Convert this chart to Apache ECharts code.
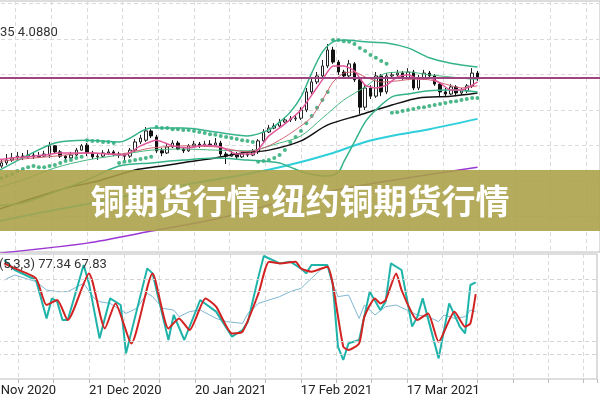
<!DOCTYPE html>
<html>
<head>
<meta charset="utf-8">
<script src="https://cdn.jsdelivr.net/npm/echarts@6/dist/echarts.min.js"></script>
<style>
  html, body { margin: 0; padding: 0; background: #fff; overflow: hidden; }
  #chart { position: absolute; left: -20px; top: 0; width: 620px; height: 400px; }
</style>
</head>
<body>
<div id="chart"></div>
<script>
// trading-day index: 0 = 21 Dec 2020
const dateTicks = [-20, 0, 20, 40, 60]
const dateLabels = ['20 Nov 2020', '21 Dec 2020', '20 Jan 2021', '17 Feb 2021', '17 Mar 2021']

const candleStart = -16
// [open, close, low, high]
const candles = [
  [3.842, 3.851, 3.837, 3.859], [3.851, 3.859, 3.845, 3.876], [3.859, 3.865, 3.854, 3.879], [3.865, 3.870, 3.859, 3.882],
  [3.870, 3.868, 3.859, 3.879], [3.868, 3.873, 3.865, 3.887], [3.873, 3.868, 3.862, 3.879], [3.868, 3.870, 3.865, 3.882],
  [3.870, 3.876, 3.868, 3.885], [3.873, 3.899, 3.865, 3.910], [3.899, 3.882, 3.876, 3.901], [3.882, 3.870, 3.865, 3.887],
  [3.870, 3.865, 3.859, 3.873], [3.865, 3.873, 3.862, 3.882], [3.873, 3.887, 3.870, 3.893], [3.887, 3.899, 3.885, 3.904],
  [3.901, 3.879, 3.870, 3.907], [3.879, 3.868, 3.862, 3.885], [3.868, 3.870, 3.859, 3.876], [3.870, 3.879, 3.865, 3.887],
  [3.879, 3.882, 3.873, 3.890], [3.882, 3.876, 3.870, 3.887], [3.876, 3.873, 3.865, 3.882], [3.873, 3.870, 3.859, 3.879],
  [3.870, 3.887, 3.865, 3.893], [3.887, 3.910, 3.882, 3.918], [3.910, 3.921, 3.904, 3.930], [3.915, 3.941, 3.910, 3.952],
  [3.941, 3.927, 3.921, 3.946], [3.924, 3.885, 3.879, 3.930], [3.885, 3.879, 3.870, 3.893], [3.879, 3.896, 3.876, 3.904],
  [3.896, 3.907, 3.893, 3.915], [3.907, 3.890, 3.887, 3.913], [3.890, 3.885, 3.879, 3.896], [3.885, 3.899, 3.882, 3.904],
  [3.899, 3.904, 3.893, 3.913], [3.904, 3.899, 3.893, 3.910], [3.899, 3.904, 3.896, 3.913], [3.904, 3.901, 3.896, 3.915],
  [3.901, 3.907, 3.899, 3.921], [3.907, 3.876, 3.870, 3.913], [3.876, 3.870, 3.848, 3.882], [3.870, 3.876, 3.868, 3.885],
  [3.876, 3.868, 3.862, 3.882], [3.868, 3.876, 3.865, 3.882], [3.876, 3.873, 3.868, 3.882], [3.873, 3.882, 3.870, 3.890],
  [3.882, 3.913, 3.876, 3.918], [3.913, 3.938, 3.910, 3.946], [3.938, 3.949, 3.935, 3.958], [3.949, 3.955, 3.946, 3.963],
  [3.955, 3.966, 3.952, 3.975], [3.966, 3.972, 3.963, 3.980], [3.972, 3.975, 3.966, 3.983], [3.975, 3.977, 3.969, 3.986],
  [3.977, 4.000, 3.972, 4.008], [4.000, 4.051, 3.994, 4.062], [4.051, 4.079, 4.045, 4.090], [4.079, 4.096, 4.073, 4.107],
  [4.096, 4.124, 4.090, 4.141], [4.124, 4.169, 4.118, 4.186], [4.169, 4.135, 4.130, 4.178], [4.135, 4.107, 4.099, 4.141],
  [4.107, 4.096, 4.090, 4.113], [4.096, 4.130, 4.090, 4.141], [4.130, 4.085, 4.079, 4.135], [4.085, 4.008, 3.989, 4.090],
  [4.008, 4.062, 4.000, 4.073], [4.062, 4.039, 4.031, 4.070], [4.039, 4.096, 4.034, 4.107], [4.096, 4.051, 4.039, 4.101],
  [4.051, 4.096, 4.045, 4.104], [4.096, 4.099, 4.090, 4.107], [4.099, 4.104, 4.093, 4.113], [4.104, 4.090, 4.085, 4.110],
  [4.090, 4.107, 4.087, 4.118], [4.107, 4.062, 4.056, 4.113], [4.062, 4.090, 4.056, 4.099], [4.090, 4.104, 4.085, 4.113],
  [4.104, 4.096, 4.090, 4.110], [4.096, 4.073, 4.068, 4.101], [4.073, 4.051, 4.039, 4.079], [4.051, 4.045, 4.037, 4.062],
  [4.045, 4.065, 4.042, 4.073], [4.065, 4.048, 4.039, 4.070], [4.048, 4.054, 4.042, 4.062], [4.054, 4.068, 4.048, 4.073],
  [4.068, 4.104, 4.062, 4.118], [4.104, 4.088, 4.082, 4.110]
]
const lastPrice = 4.088

// indicator lines, [day index, price]
const bbUpper = [[-17, 3.825], [-12, 3.865], [-6, 3.907], [0, 3.915], [6, 3.910], [12, 3.949], [18, 3.949], [24, 3.938],
  [30, 3.927], [34, 3.944], [36, 3.966], [38, 3.994], [40, 4.037], [42, 4.104], [44, 4.163], [46, 4.192], [48, 4.197],
  [52, 4.192], [56, 4.189], [60, 4.175], [64, 4.147], [68, 4.132], [73, 4.121]]
const bbMiddle = [[-17, 3.780], [-12, 3.803], [-6, 3.837], [0, 3.859], [6, 3.873], [12, 3.887], [18, 3.890], [24, 3.887],
  [30, 3.885], [36, 3.907], [40, 3.927], [44, 3.977], [48, 4.028], [52, 4.065], [56, 4.104], [60, 4.107], [64, 4.099],
  [68, 4.093], [73, 4.085]]
const bbLower = [[-17, 3.730], [-12, 3.738], [-6, 3.769], [0, 3.803], [6, 3.842], [12, 3.851], [18, 3.859], [24, 3.865],
  [30, 3.859], [36, 3.851], [38, 3.839], [41, 3.822], [45, 3.814], [47, 3.825], [48, 3.854], [50, 3.910], [52, 3.966],
  [54, 4.000], [57, 4.037], [60, 4.045], [64, 4.054], [68, 4.056], [73, 4.051]]
const maFast = [[-17, 3.859], [-14, 3.865], [-11, 3.868], [-8, 3.873], [-5, 3.879], [-2, 3.879], [1, 3.879], [4, 3.876],
  [7, 3.873], [10, 3.899], [13, 3.915], [16, 3.899], [19, 3.893], [22, 3.901], [25, 3.896], [28, 3.876], [31, 3.876],
  [34, 3.927], [37, 3.961], [40, 4.000], [42, 4.042], [44, 4.085], [46, 4.124], [48, 4.124], [50, 4.110], [52, 4.070],
  [54, 4.062], [56, 4.070], [58, 4.093], [60, 4.099], [62, 4.087], [64, 4.090], [66, 4.076], [68, 4.056], [70, 4.056],
  [72, 4.070], [73, 4.079]]
const maSlow = [[-17, 3.854], [-12, 3.862], [-6, 3.870], [0, 3.879], [6, 3.876], [12, 3.893], [18, 3.899], [24, 3.896],
  [30, 3.882], [34, 3.899], [37, 3.924], [40, 3.955], [42, 3.980], [44, 4.028], [46, 4.079], [48, 4.104], [50, 4.107],
  [52, 4.093], [55, 4.079], [58, 4.082], [61, 4.087], [64, 4.085], [67, 4.073], [70, 4.062], [73, 4.068]]
const maBlack = [[-17, 3.718], [-10, 3.752], [-4, 3.780], [2, 3.800], [9, 3.831], [14, 3.842], [19, 3.854], [24, 3.865],
  [29, 3.879], [34, 3.887], [40, 3.913], [45, 3.958], [51, 3.986], [57, 4.014], [62, 4.034], [68, 4.039], [73, 4.048]]
const maCyan = [[-17, 3.685], [-8, 3.713], [0, 3.735], [10, 3.766], [20, 3.794], [30, 3.820], [37, 3.842], [46, 3.879],
  [52, 3.910], [58, 3.930], [64, 3.946], [73, 3.975]]
const maPurple = [[-17, 3.596], [0, 3.625], [12, 3.659], [25, 3.696], [40, 3.755], [55, 3.797], [73, 3.839]]

// parabolic SAR
const sarStart = -16
const sar = [3.808, 3.814, 3.820, 3.828, 3.834, 3.839, 3.842, 3.839, 3.839, 3.842, 3.845, 3.851, 3.856, 3.859, 3.865, 3.868,
  3.915, 3.913, 3.913, 3.910, 3.910, 3.907,
  3.851, 3.854, 3.856, 3.859, 3.862, 3.865, 3.868,
  3.952, 3.949, 3.949, 3.946, 3.946, 3.944, 3.944, 3.941, 3.938, 3.935, 3.932, 3.930, 3.927, 3.924, 3.921, 3.918, 3.915, 3.913, 3.910,
  3.854, 3.856, 3.859, 3.865, 3.873, 3.887, 3.910, 3.924, 3.941, 3.963, 3.983, 4.006, 4.028, 4.051,
  4.197, 4.197, 4.194, 4.192, 4.186, 4.175, 4.166, 4.155, 4.147, 4.138, 4.130,
  3.992, 3.994, 3.997, 4.000, 4.003, 4.006, 4.008, 4.011, 4.014, 4.017, 4.020, 4.023, 4.025, 4.028, 4.031, 4.034, 4.034]

// stochastic (5,3,3)
const stochK = [[-16, 95.2], [-14, 87.2], [-10, 79.2], [-8, 48.5], [-7, 64.5], [-6, 61.9], [-5, 47.2], [-4, 47.2], [-1, 91.2],
  [0, 76.5], [2, 32.5], [4, 64.5], [6, 59.2], [7, 20.5], [11, 88.5], [12, 84.5], [15, 31.2], [16, 51.2], [18, 31.2],
  [21, 63.2], [24, 53.9], [27, 33.9], [29, 39.2], [30, 45.9], [32, 81.9], [33, 98.4], [36, 92.5], [38, 93.9], [40, 88.5],
  [41, 84.5], [42, 91.2], [45, 91.2], [46, 76.5], [47, 25.9], [48, 15.2], [49, 28.5], [51, 31.2], [53, 69.9], [55, 55.2],
  [56, 61.9], [57, 92.5], [59, 87.2], [61, 41.9], [62, 49.9], [63, 64.5], [66, 16.5], [68, 60.5], [70, 41.9], [71, 36.5],
  [72, 75.2], [73, 77.34]]
const stochD = [[-16, 92.5], [-14, 88.5], [-10, 80.5], [-8, 59.2], [-6, 63.2], [-4, 47.2], [0, 84.5], [3, 40.5], [5, 60.5],
  [8, 28.5], [12, 84.5], [15, 40.5], [17, 48.5], [19, 39.2], [22, 64.5], [24, 57.9], [27, 36.5], [29, 37.9], [32, 68.5],
  [34, 93.9], [36, 92.5], [39, 93.9], [40, 88.5], [42, 85.9], [45, 89.9], [46, 76.5], [48, 25.9], [49, 23.2], [51, 28.5],
  [52, 49.9], [54, 64.5], [55, 60.5], [56, 63.2], [58, 84.5], [59, 71.2], [61, 52.5], [62, 47.2], [64, 52.5], [66, 29.9],
  [69, 53.9], [71, 41.9], [72, 44.5], [73, 67.83]]
const stochSlow = [[-16, 79.2], [-14, 83.2], [-10, 77.9], [-8, 71.2], [-6, 69.9], [-4, 69.9], [-1, 76.5], [1, 64.5], [2, 61.9],
  [4, 60.5], [7, 52.5], [9, 56.5], [11, 68.5], [12, 65.9], [14, 56.5], [16, 55.2], [17, 49.9], [19, 53.9], [21, 55.2],
  [24, 48.5], [26, 45.9], [29, 44.5], [30, 52.5], [32, 60.5], [36, 65.9], [38, 69.9], [40, 72.5], [42, 80.5], [44, 88.5],
  [45, 89.9], [46, 76.5], [47, 65.9], [49, 67.2], [51, 48.5], [52, 59.2], [54, 51.2], [56, 57.9], [58, 59.2], [60, 55.2],
  [62, 51.2], [64, 49.9], [66, 45.9], [67, 51.2], [69, 48.5], [71, 49.9], [72, 55.2], [73, 53.9]]
const stochLevels = [20, 30, 70, 80]

const titleText = '铜期货行情:纽约铜期货行情'
const priceText = '35 4.0880'
const stochText = '(5,3,3) 77.34 67.83'

// the chart canvas is 20px wider than the window and shifted left,
// so the first (partly hidden) date column sits off screen
const shift = 20

const chart = echarts.init(document.getElementById('chart'))

const gridLine = { show: true, lineStyle: { color: '#dadada', type: [4, 3], width: 1 } }
const xBase = {
  type: 'value',
  min: -20,
  max: 95.9,
  interval: 20 / 3,
  axisLine: { show: false },
  axisTick: { show: false },
  splitLine: gridLine,
}
const lineOpt = (data, color, width, extra) => Object.assign({
  type: 'line', data, showSymbol: false, smooth: 0.3, silent: true,
  lineStyle: { color, width },
  xAxisIndex: 0, yAxisIndex: 0,
}, extra || {})

const option = {
  animation: false,
  backgroundColor: '#fff',
  grid: [
    { left: 0, right: 0, top: 1, height: 251, show: true, borderColor: '#bdbdbd', borderWidth: 1 },
    { left: 0, right: 0, top: 254, height: 125, show: true, borderColor: '#bdbdbd', borderWidth: 1 },
  ],
  xAxis: [
    Object.assign({ gridIndex: 0, axisLabel: { show: false } }, xBase),
    Object.assign({}, xBase, {
      gridIndex: 1,
      axisTick: { show: true, length: 4, lineStyle: { color: '#bdbdbd' } },
      axisLabel: {
        show: true,
        showMinLabel: true,
        hideOverlap: false,
        align: 'left',
        margin: 5,
        color: '#222',
        fontSize: 13,
        fontFamily: 'Roboto',
        formatter: (v) => {
          const r = Math.round(v)
          if (Math.abs(v - r) > 0.01) return ''
          const k = dateTicks.indexOf(r)
          return k < 0 ? '' : dateLabels[k]
        },
      },
    }),
  ],
  yAxis: [
    {
      type: 'value', gridIndex: 0, min: 3.6, max: 3.6 + 251 / 355, interval: 0.1,
      axisLine: { show: false }, axisTick: { show: false }, axisLabel: { show: false },
      splitLine: gridLine,
    },
    {
      type: 'value', gridIndex: 1, min: 0, max: 100,
      axisLine: { show: false }, axisTick: { show: false }, axisLabel: { show: false },
      splitLine: { show: false },
    },
  ],
  series: [
    lineOpt(maPurple, '#9a36d2', 1.5, {
      markLine: {
        silent: true, symbol: 'none', label: { show: false },
        lineStyle: { color: '#a0447f', width: 2, type: 'solid' },
        data: [{ yAxis: lastPrice }],
      },
    }),
    lineOpt(maCyan, '#2ecfdb', 2),
    lineOpt(maBlack, '#111111', 1.5),
    lineOpt(bbLower, '#35b38c', 1.5),
    lineOpt(bbMiddle, '#45b77e', 1),
    lineOpt(bbUpper, '#35b38c', 1.5),
    lineOpt(maSlow, '#d0606e', 1, { smooth: 0.2 }),
    lineOpt(maFast, '#e2579b', 1.5, { smooth: 0.2 }),
    {
      type: 'candlestick',
      xAxisIndex: 0, yAxisIndex: 0,
      silent: true,
      barWidth: 3,
      encode: { x: 0, y: [1, 2, 3, 4] },
      data: candles.map((d, k) => [candleStart + k].concat(d)),
      itemStyle: { color: '#ffffff', color0: '#111111', borderColor: '#222222', borderColor0: '#111111', borderWidth: 1 },
    },
    {
      type: 'scatter',
      xAxisIndex: 0, yAxisIndex: 0,
      silent: true,
      symbolSize: 4,
      itemStyle: { color: '#1fa56c' },
      data: sar.map((v, k) => [sarStart + k, v]),
    },
    {
      type: 'line', xAxisIndex: 1, yAxisIndex: 1, data: stochSlow, showSymbol: false, silent: true,
      lineStyle: { color: '#7fb7d3', width: 1 },
      markLine: {
        silent: true, symbol: 'none', label: { show: false },
        lineStyle: { color: '#d4d4d4', type: [4, 3], width: 1 },
        data: stochLevels.map((v) => ({ yAxis: v })),
      },
    },
    {
      type: 'line', xAxisIndex: 1, yAxisIndex: 1, data: stochK, showSymbol: false, silent: true,
      lineStyle: { color: '#1fb3a9', width: 2 },
    },
    {
      type: 'line', xAxisIndex: 1, yAxisIndex: 1, data: stochD, showSymbol: false, silent: true, smooth: 0.2,
      lineStyle: { color: '#d32222', width: 2 },
    },
  ],
  graphic: [
    {
      type: 'text', left: shift, top: 26, z: 50,
      style: { text: priceText, fill: '#333', font: '13px Roboto' },
    },
    {
      type: 'text', left: shift - 1, top: 258, z: 50,
      style: { text: stochText, fill: '#333', font: '13px Roboto' },
    },
    {
      type: 'rect', left: shift, top: 170, z: 100,
      shape: { width: 600, height: 61 },
      style: { fill: 'rgba(170,160,70,0.88)' },
    },
    {
      type: 'text', x: shift + 300, y: 201, z: 101,
      style: {
        text: titleText, fill: '#ffffff', font: 'bold 34px "Noto Sans CJK SC"',
        align: 'center', verticalAlign: 'middle',
      },
    },
  ],
}

chart.setOption(option)
</script>
</body>
</html>
